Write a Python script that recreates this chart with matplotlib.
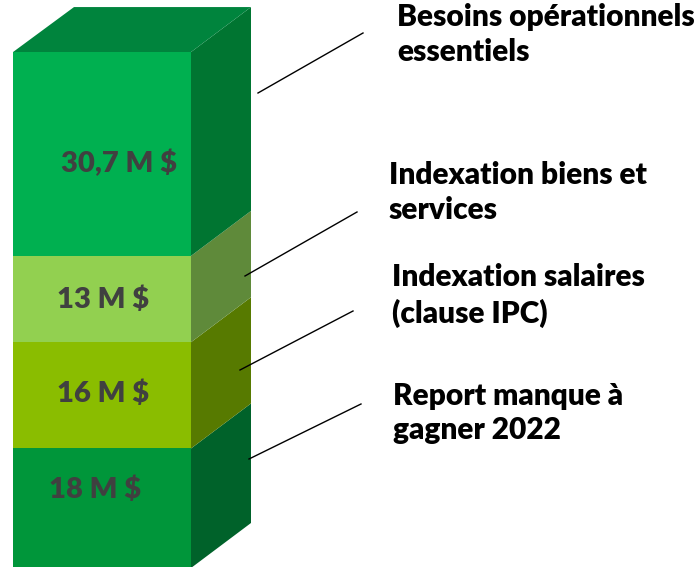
import matplotlib.pyplot as plt
from matplotlib.patches import Polygon

# donnees (M $), du bas vers le haut
valeurs = [18, 16, 13, 30.7]
etiquettes_valeur = ["18 M $", "16 M $", "13 M $", "30,7 M $"]
categories = ["Report manque à\ngagner 2022",
              "Indexation salaires\n(clause IPC)",
              "Indexation biens et\nservices",
              "Besoins opérationnels\nessentiels"]

couleurs_face = ["#00963A", "#8ABD00", "#92D050", "#00B050"]
couleurs_cote = ["#00622A", "#577A00", "#5F8A3A", "#007531"]
couleur_dessus = "#00843D"

W, H = 694, 567
fig = plt.figure(figsize=(W / 100, H / 100), dpi=100)
ax = fig.add_axes([0, 0, 1, 1])
ax.set_xlim(0, W)
ax.set_ylim(0.15, 85.54)
ax.axis("off")

def px(x, y):
    # pixels -> fraction de figure
    return (x / W, 1 - y / H)

x_gauche, x_droite = 13, 191
dx = 60
dy = 45 / 6.64  # profondeur en unites de valeur

bas = []
cumul = 0
for v in valeurs:
    bas.append(cumul)
    cumul += v

# faces avant
ax.bar((x_gauche + x_droite) / 2, valeurs, bottom=bas, width=x_droite - x_gauche,
       color=couleurs_face, linewidth=0, zorder=2)

# faces laterales
for b, v, c in zip(bas, valeurs, couleurs_cote):
    t = b + v
    ax.add_patch(Polygon([(x_droite, b), (x_droite + dx, b + dy),
                          (x_droite + dx, t + dy), (x_droite, t)],
                         closed=True, facecolor=c, edgecolor="none", zorder=1))

# dessus
ax.add_patch(Polygon([(x_gauche, cumul), (x_droite, cumul),
                      (x_droite + dx, cumul + dy), (x_gauche + dx + 1, cumul + dy)],
                     closed=True, facecolor=couleur_dessus, edgecolor="none", zorder=1))

police = ["Lato", "DejaVu Sans"]

# etiquettes de valeur sur la face avant
pos_valeur = [(95, 490), (103, 394), (103, 300), (119, 163)]
for (x, y), txt in zip(pos_valeur, etiquettes_valeur):
    fig.text(*px(x, y), txt, ha="center", va="center", fontsize=21,
             fontweight="heavy", color="#404040", family=police)

# etiquettes de categorie
pos_cat = [(393, 413), (392, 295.5), (389, 192.5), (397, 34.5)]
for (x, y), txt in zip(pos_cat, categories):
    fig.text(*px(x, y), txt, ha="left", va="center", fontsize=21.5,
             fontweight="heavy", color="black", family=police, linespacing=1.3)

# traits de rappel
traits = [((249, 459), (361, 404)), ((240, 370), (353, 311)),
          ((245, 276), (357, 212)), ((258, 93), (363, 33))]
for (x0, y0), (x1, y1) in traits:
    a, b = px(x0, y0), px(x1, y1)
    fig.add_artist(plt.Line2D([a[0], b[0]], [a[1], b[1]], color="black", lw=1))

fig.savefig("out.png", dpi=100)
